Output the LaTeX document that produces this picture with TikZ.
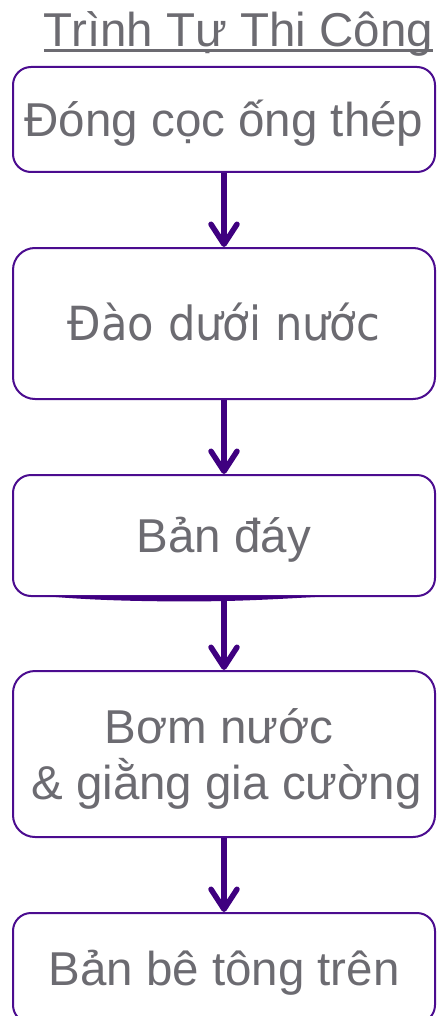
\documentclass[tikz,border=0pt]{standalone}
\usepackage{fontspec}
\setmainfont{Liberation Sans}
\newfontfamily\dvfont[FakeStretch=0.92]{DejaVu Sans}
\usetikzlibrary{arrows.meta}
\definecolor{boxc}{HTML}{4B0C8F}
\definecolor{arrc}{HTML}{3F0080}
\definecolor{txtc}{HTML}{6C6B71}
\begin{document}
\begin{tikzpicture}[x=1pt,y=-1pt,
  box/.style={draw=boxc, line width=2pt, rounded corners=18pt, minimum width=422pt,
    text=txtc, font=\fontsize{47.5}{56}\selectfont, inner sep=0pt,
    text height=34pt, text depth=0pt},
  flow/.style={draw=arrc, line width=5.5pt, -{Straight Barb[length=20pt,width=26pt,round]}}]
\useasboundingbox (0,0) rectangle (436,1016);
\clip (0,0) rectangle (436,1016);
\node[anchor=base, inner sep=0pt, text=txtc, font=\fontsize{47.5}{56}\selectfont] (title) at (238.5,47) {Trình Tự Thi Công};
\draw[line width=3pt, txtc] ([yshift=-4pt]title.base west) -- ([yshift=-4pt]title.base east);
\node[box, minimum height=105pt] (b1) at (224,119.5) {Đóng cọc ống thép};
\node[box, minimum height=151pt, rounded corners=22pt, font=\dvfont\fontsize{47}{56}\selectfont, text height=34.3pt] (b2) at (224,323.5) {Đào dưới nước};
\node[box, minimum height=121pt] (b3) at (224,535.5) {Bản đáy};
\node[box, minimum height=166pt, rounded corners=22pt, align=center, text height=90pt, text depth=0pt] (b4) at (224,754) {Bơm nước\hspace*{10pt}\\\hspace*{5pt}\& giằng gia cường};
\node[box, minimum height=110pt] (b5) at (224,968) {Bản bê tông trên};
\fill[arrc] (45,596) .. controls (100,601.5) and (180,602) .. (225,601) .. controls (270,600) and (310,597) .. (335,596) -- cycle;
\draw[flow] (b1) -- (b2);
\draw[flow] (b2) -- (b3);
\draw[flow] (b3) -- (b4);
\draw[flow] (b4) -- (b5);
\end{tikzpicture}
\end{document}
